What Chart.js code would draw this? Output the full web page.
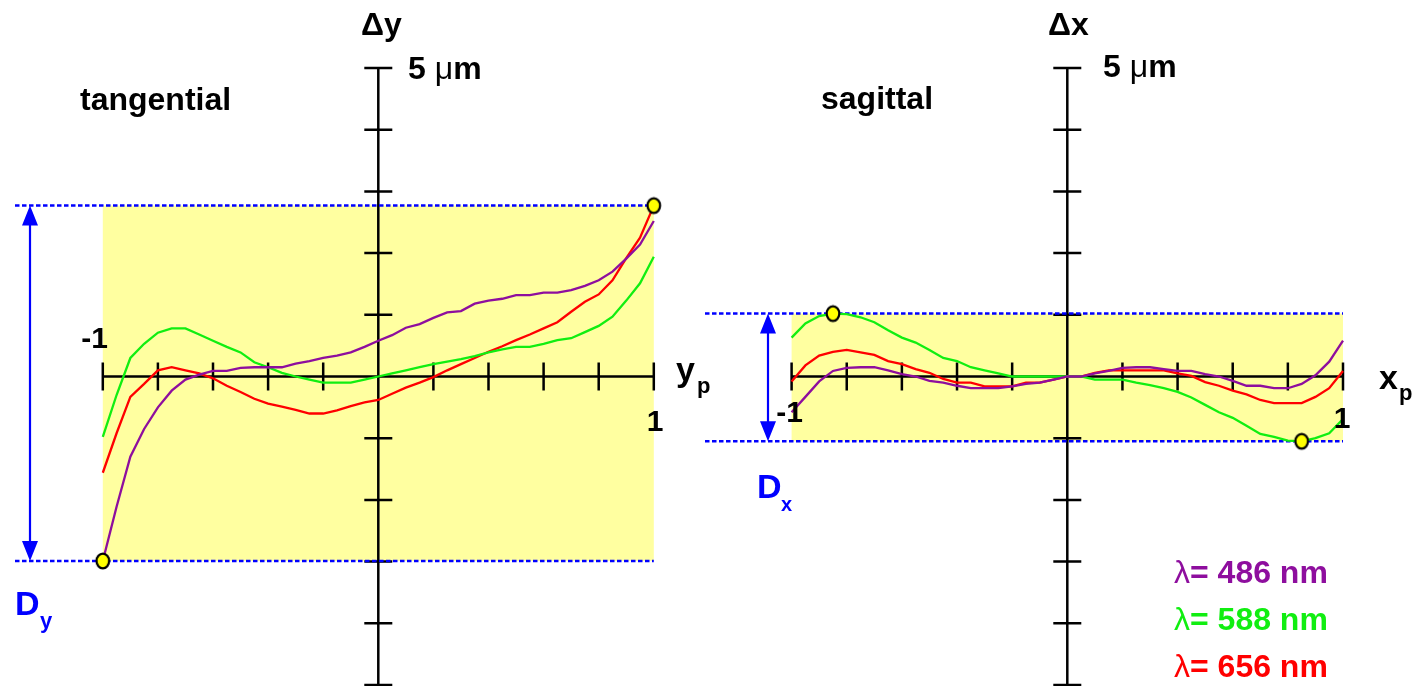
<!DOCTYPE html>
<html>
<head>
<meta charset="utf-8">
<script src="https://cdn.jsdelivr.net/npm/chart.js@4/dist/chart.umd.min.js"></script>
<style>
html, body { margin: 0; padding: 0; background: #fff; }
#wrap { position: relative; width: 1423px; height: 686px; overflow: hidden; }
canvas { position: absolute; top: 0; }
#tang { left: 0; }
#sag { left: 700px; }
</style>
</head>
<body>
<div id="wrap">
  <canvas id="tang" width="715" height="686"></canvas>
  <canvas id="sag" width="723" height="686"></canvas>
</div>
<script>
// normalized pupil coordinate
const pupil = [-1,-0.95,-0.9,-0.85,-0.8,-0.75,-0.7,-0.65,-0.6,-0.55,-0.5,-0.45,-0.4,-0.35,-0.3,-0.25,-0.2,-0.15,-0.1,-0.05,
  0,0.05,0.1,0.15,0.2,0.25,0.3,0.35,0.4,0.45,0.5,0.55,0.6,0.65,0.7,0.75,0.8,0.85,0.9,0.95,1];

// tangential fan, delta y in um
const tang486 = [-2.99,-2.11,-1.3,-0.85,-0.5,-0.23,-0.05,0.03,0.09,0.09,0.14,0.15,0.15,0.15,0.21,0.25,0.3,0.34,0.39,0.48,
  0.58,0.67,0.79,0.85,0.95,1.04,1.06,1.18,1.23,1.26,1.32,1.32,1.36,1.36,1.4,1.47,1.56,1.7,1.91,2.14,2.52];
const tang588 = [-0.98,-0.3,0.3,0.53,0.71,0.78,0.78,0.68,0.58,0.48,0.39,0.23,0.15,0.06,0,-0.05,-0.1,-0.1,-0.1,-0.05,
  0,0.05,0.1,0.15,0.2,0.24,0.28,0.33,0.39,0.44,0.48,0.48,0.53,0.59,0.62,0.72,0.82,0.97,1.23,1.51,1.94];
const tang656 = [-1.56,-0.92,-0.33,-0.12,0.1,0.15,0.1,0.05,-0.03,-0.15,-0.25,-0.36,-0.44,-0.49,-0.54,-0.6,-0.6,-0.55,-0.48,-0.42,
  -0.38,-0.28,-0.18,-0.1,-0.01,0.1,0.2,0.3,0.4,0.49,0.59,0.68,0.78,0.88,1.05,1.21,1.33,1.56,1.92,2.25,2.77];

// sagittal fan, delta x in um
const sag486 = [-0.58,-0.33,-0.08,0.09,0.14,0.15,0.15,0.1,0.04,0,-0.07,-0.1,-0.15,-0.19,-0.19,-0.19,-0.16,-0.12,-0.1,-0.05,
  0,0,0.05,0.09,0.14,0.15,0.15,0.12,0.09,0.09,0.04,0,-0.07,-0.15,-0.15,-0.19,-0.19,-0.12,0.02,0.24,0.58];
const sag588 = [0.63,0.86,0.98,1.02,1.01,0.96,0.88,0.75,0.63,0.55,0.43,0.3,0.25,0.15,0.1,0.05,0,0,0,0,
  0,0,-0.05,-0.05,-0.05,-0.1,-0.14,-0.19,-0.25,-0.34,-0.46,-0.58,-0.67,-0.8,-0.93,-0.98,-1.04,-1.05,-1.0,-0.92,-0.69];
const sag656 = [-0.08,0.18,0.34,0.4,0.43,0.39,0.35,0.25,0.2,0.12,0.06,-0.04,-0.1,-0.1,-0.16,-0.16,-0.16,-0.1,-0.1,-0.05,
  0,0,0.06,0.1,0.1,0.1,0.1,0.1,0.05,0.01,-0.09,-0.15,-0.23,-0.29,-0.38,-0.43,-0.43,-0.43,-0.33,-0.19,0.09];

const waveLabels = ['λ= 486 nm', 'λ= 588 nm', 'λ= 656 nm'];
const waveColors = ['#8e0e9e', '#11ee11', '#ff0000'];
const xTicks = [-1,-0.8,-0.6,-0.4,-0.2,0,0.2,0.4,0.6,0.8,1];
const yTicks = [-5,-4,-3,-2,-1,0,1,2,3,4,5];

const FONT = '"Liberation Sans", Arial, Helvetica, sans-serif';
const BLUE = '#0000ff';

function series(vals) {
  return pupil.map((p, i) => ({x: p, y: vals[i]}));
}

// largest and smallest aberration over all wavelengths
function extremes(list) {
  let hi = null, lo = null;
  list.forEach(vals => vals.forEach((v, i) => {
    if (!hi || v > hi.y) hi = {x: pupil[i], y: v};
    if (!lo || v < lo.y) lo = {x: pupil[i], y: v};
  }));
  return {hi, lo};
}

// little yellow ellipse used as marker
function dotImage() {
  const c = document.createElement('canvas');
  c.width = 18; c.height = 20;
  const g = c.getContext('2d');
  g.beginPath();
  g.ellipse(9, 10, 6.3, 7.3, 0, 0, Math.PI * 2);
  g.fillStyle = '#ffff00';
  g.fill();
  g.lineWidth = 2.2;
  g.strokeStyle = '#000';
  g.stroke();
  return c;
}
const dot = dotImage();

const fanPlugin = {
  id: 'fan',
  beforeDatasetsDraw(chart, args, o) {
    const {ctx, scales: {x, y}} = chart;
    const top = y.getPixelForValue(o.hi), bot = y.getPixelForValue(o.lo);
    const left = x.getPixelForValue(-1), right = x.getPixelForValue(1);
    const x0 = x.getPixelForValue(0), y0 = y.getPixelForValue(0);
    ctx.save();
    ctx.fillStyle = '#ffffa0';
    ctx.fillRect(left, top, right - left, bot - top);

    // axes through the origin, ticks cross the line
    ctx.strokeStyle = '#000';
    ctx.lineWidth = 2.5;
    ctx.beginPath();
    ctx.moveTo(left, y0); ctx.lineTo(right, y0);
    ctx.moveTo(x0, y.getPixelForValue(5)); ctx.lineTo(x0, chart.height);
    xTicks.forEach(v => {
      const p = x.getPixelForValue(v);
      ctx.moveTo(p, y0 - 14); ctx.lineTo(p, y0 + 14);
    });
    yTicks.forEach(v => {
      const p = y.getPixelForValue(v);
      ctx.moveTo(x0 - 14, p); ctx.lineTo(x0 + 14, p);
    });
    ctx.stroke();

    // dotted limits
    ctx.strokeStyle = BLUE;
    ctx.lineWidth = 2.5;
    ctx.setLineDash([4.5, 2.5]);
    ctx.beginPath();
    [top, bot].forEach(p => { ctx.moveTo(o.dashFrom, p); ctx.lineTo(right, p); });
    ctx.stroke();
    ctx.setLineDash([]);

    // double arrow for D
    const ax = o.arrowX, head = 20, half = 8;
    ctx.lineWidth = 2.2;
    ctx.beginPath();
    ctx.moveTo(ax, top + head - 2); ctx.lineTo(ax, bot - head + 2);
    ctx.stroke();
    ctx.fillStyle = BLUE;
    ctx.beginPath();
    ctx.moveTo(ax, top); ctx.lineTo(ax - half, top + head); ctx.lineTo(ax + half, top + head); ctx.closePath();
    ctx.moveTo(ax, bot); ctx.lineTo(ax - half, bot - head); ctx.lineTo(ax + half, bot - head); ctx.closePath();
    ctx.fill();
    ctx.restore();
  },
  afterDraw(chart, args, o) {
    const ctx = chart.ctx;
    ctx.save();
    ctx.textBaseline = 'alphabetic';
    o.labels.forEach(l => {
      ctx.fillStyle = l.c || '#000';
      ctx.textAlign = l.align || 'left';
      if (l.parts) {
        let px = l.x;
        l.parts.forEach(p => {
          ctx.font = p.f + ' ' + FONT;
          ctx.fillText(p.t, px, l.y);
          px += ctx.measureText(p.t).width;
        });
      } else {
        ctx.font = l.f + ' ' + FONT;
        ctx.fillText(l.t, l.x, l.y);
      }
    });
    if (o.legend) {
      ctx.textAlign = 'left';
      chart.data.datasets.filter(d => d.label).forEach((d, i) => {
        const y = o.legend.y[i];
        ctx.fillStyle = d.borderColor;
        ctx.font = '32px ' + FONT;
        ctx.fillText(d.label[0], o.legend.x, y);
        const w = ctx.measureText(d.label[0]).width;
        ctx.font = 'bold 32px ' + FONT;
        ctx.fillText(d.label.slice(1), o.legend.x + w, y);
      });
    }
    ctx.restore();
  }
};

function fanChart(id, curves, pad, deco) {
  const ext = extremes(curves);
  const datasets = [{
    data: [ext.hi, ext.lo],
    showLine: false,
    pointStyle: dot,
    pointRadius: 7,
    clip: false
  }];
  curves.forEach((vals, i) => datasets.push({
    label: waveLabels[i],
    data: series(vals),
    borderColor: waveColors[i],
    borderWidth: 2.3,
    pointRadius: 0,
    tension: 0,
    clip: false
  }));
  deco.hi = ext.hi.y;
  deco.lo = ext.lo.y;
  return new Chart(document.getElementById(id), {
    type: 'line',
    data: {datasets},
    options: {
      responsive: false,
      animation: false,
      events: [],
      layout: {padding: pad, autoPadding: false},
      scales: {
        x: {type: 'linear', min: -1, max: 1, display: false},
        y: {type: 'linear', min: -5, max: 5, display: false}
      },
      plugins: {
        legend: {display: false},
        tooltip: {enabled: false},
        fan: deco
      }
    },
    plugins: [fanPlugin]
  });
}

fanChart('tang', [tang486, tang588, tang656],
  {left: 102.8, right: 61.2, top: 68, bottom: 1},
  {
    dashFrom: 15,
    arrowX: 30,
    labels: [
      {t: 'tangential', x: 80, y: 110, f: 'bold 32px'},
      {t: 'Δy', x: 361, y: 35, f: 'bold 32px'},
      {x: 408, y: 79, parts: [{t: '5 ', f: 'bold 32px'}, {t: 'μ', f: '32px'}, {t: 'm', f: 'bold 32px'}]},
      {t: '-1', x: 108, y: 348, f: 'bold 30px', align: 'right'},
      {t: '1', x: 655, y: 431, f: 'bold 30px', align: 'center'},
      {t: 'y', x: 676, y: 381, f: 'bold 34px'},
      {t: 'p', x: 697, y: 393, f: 'bold 22px'},
      {t: 'D', x: 15, y: 615, f: 'bold 34px', c: BLUE},
      {t: 'y', x: 40, y: 628, f: 'bold 22px', c: BLUE}
    ]
  });

fanChart('sag', [sag486, sag588, sag656],
  {left: 91.6, right: 80, top: 68, bottom: 1},
  {
    dashFrom: 5,
    arrowX: 68,
    labels: [
      {t: 'sagittal', x: 121, y: 109, f: 'bold 32px'},
      {t: 'Δx', x: 348, y: 35, f: 'bold 32px'},
      {x: 403, y: 77, parts: [{t: '5 ', f: 'bold 32px'}, {t: 'μ', f: '32px'}, {t: 'm', f: 'bold 32px'}]},
      {t: '-1', x: 103, y: 422, f: 'bold 30px', align: 'right'},
      {t: '1', x: 642, y: 428, f: 'bold 30px', align: 'center'},
      {t: 'x', x: 679, y: 389, f: 'bold 34px'},
      {t: 'p', x: 699, y: 400, f: 'bold 22px'},
      {t: 'D', x: 57, y: 498, f: 'bold 34px', c: BLUE},
      {t: 'x', x: 81, y: 511, f: 'bold 20px', c: BLUE}
    ],
    legend: {x: 474, y: [583, 630, 677]}
  });
</script>
</body>
</html>
